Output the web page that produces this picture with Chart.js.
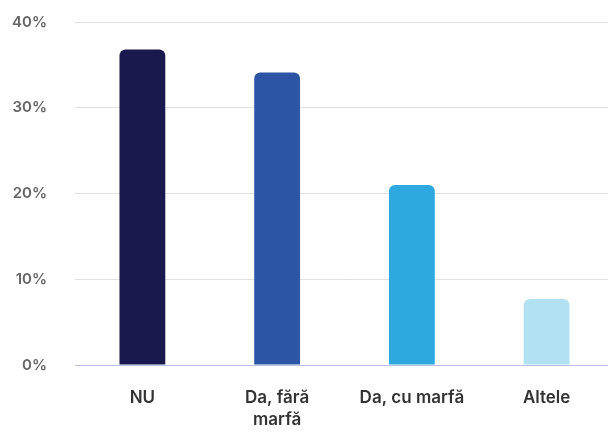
<!DOCTYPE html>
<html>
<head>
<meta charset="utf-8">
<script src="https://cdn.jsdelivr.net/npm/chart.js@4"></script>
<style>
  html, body { margin: 0; padding: 0; background: #fff; overflow: hidden; }
  #wrap { width: 614px; height: 433px; position: relative; }
</style>
</head>
<body>
<div id="wrap"><canvas id="chart"></canvas></div>
<script>
const categories = ['NU', ['Da, fără', 'marfă'], 'Da, cu marfă', 'Altele'];
const shares = [36.8, 34.1, 21.0, 7.7];
const barColors = ['#19194d', '#2c56a5', '#2da9e0', '#b2e1f1'];
const yTicks = [0, 10, 20, 30, 40];

new Chart(document.getElementById('chart'), {
  type: 'bar',
  data: {
    labels: categories,
    datasets: [{
      data: shares,
      backgroundColor: barColors,
      borderRadius: { topLeft: 6, topRight: 6 },
      borderSkipped: 'bottom',
      categoryPercentage: 0.68,
      barPercentage: 0.5
    }]
  },
  options: {
    responsive: true,
    maintainAspectRatio: false,
    animation: false,
    layout: { padding: { top: 22, left: 0, right: 0, bottom: 0 } },
    plugins: { legend: { display: false }, tooltip: { enabled: false } },
    scales: {
      x: {
        grid: { display: false, drawTicks: false },
        border: { display: true, color: '#b7c2e4', width: 1 },
        ticks: {
          color: '#333',
          font: { family: 'Inter', size: 17, weight: '600', lineHeight: 1.3 },
          padding: 22,
          maxRotation: 0,
          autoSkip: false
        },
        afterFit: s => { s.height = 68; }
      },
      y: {
        min: 0,
        max: 40,
        afterBuildTicks: s => { s.ticks = yTicks.map(v => ({ value: v })); },
        grid: { color: '#e1e1e1', drawTicks: false, lineWidth: 1 },
        border: { display: false },
        ticks: {
          color: '#666',
          font: { family: 'Inter', size: 15, weight: '600' },
          padding: 28,
          callback: v => v + '%'
        },
        afterFit: s => { s.width = 75; s.paddingTop = 0; s.paddingBottom = 0; }
      }
    }
  }
});
</script>
</body>
</html>
